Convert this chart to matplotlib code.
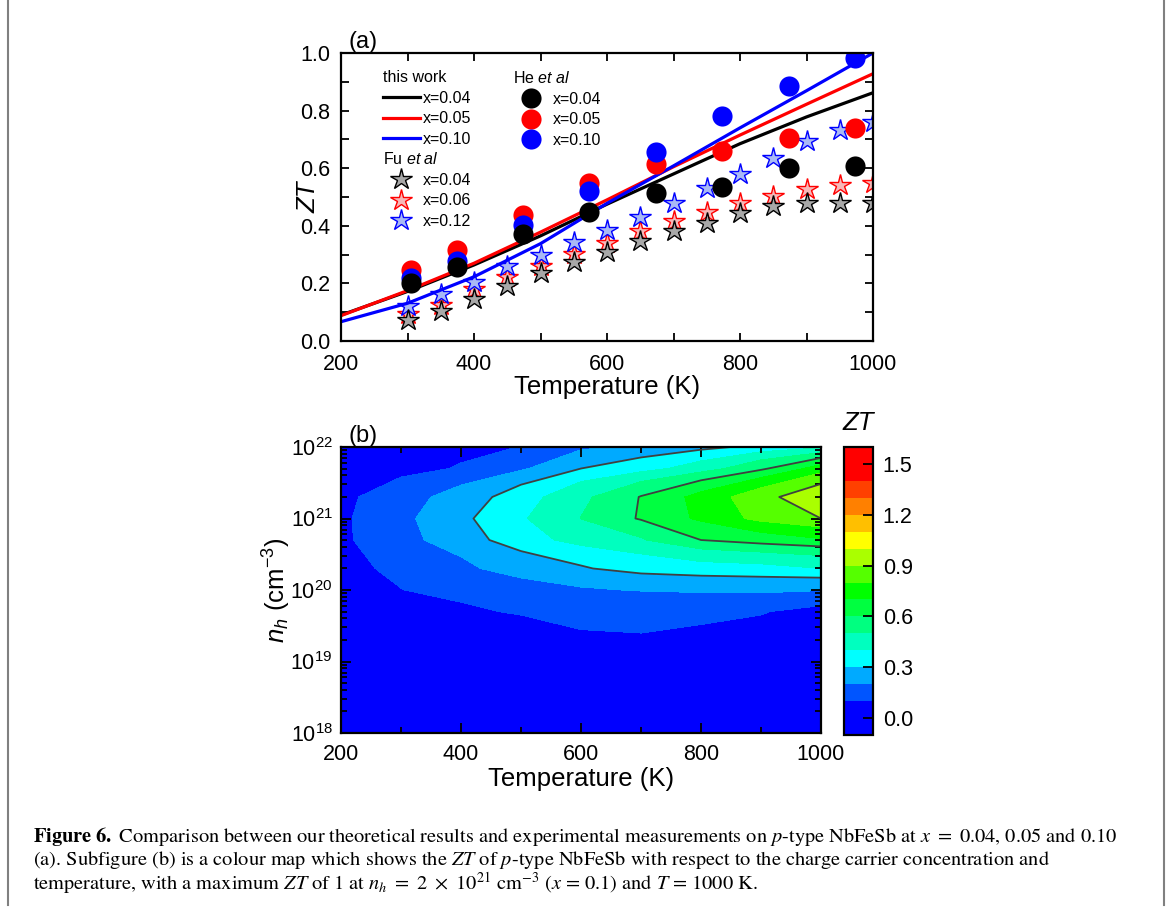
import numpy as np
import matplotlib
matplotlib.use('Agg')
import matplotlib.pyplot as plt
from matplotlib.lines import Line2D
from matplotlib.ticker import MultipleLocator, LogLocator, NullFormatter

plt.rcParams['font.family'] = ['Liberation Sans', 'DejaVu Sans']
plt.rcParams['mathtext.fontset'] = 'custom'
plt.rcParams['mathtext.rm'] = 'Liberation Sans'
plt.rcParams['mathtext.it'] = 'Liberation Sans:italic'
plt.rcParams['mathtext.bf'] = 'Liberation Sans:bold'

# --- (a) ZT vs T ---
# this work (model curves)
t_model = [200, 300, 400, 500, 600, 700, 800, 900, 1000]
zt_model_004 = [0.090, 0.172, 0.264, 0.365, 0.475, 0.580, 0.685, 0.778, 0.862]
zt_model_005 = [0.088, 0.175, 0.270, 0.378, 0.490, 0.605, 0.715, 0.822, 0.928]
zt_model_010 = [0.067, 0.131, 0.223, 0.338, 0.478, 0.608, 0.740, 0.869, 1.000]

# He et al
t_he = [305, 375, 473, 573, 673, 773, 873, 973]
zt_he_004 = [0.200, 0.258, 0.370, 0.449, 0.513, 0.536, 0.600, 0.608]
zt_he_005 = [0.247, 0.316, 0.437, 0.549, 0.613, 0.661, 0.705, 0.739]
zt_he_010 = [0.220, 0.278, 0.403, 0.522, 0.657, 0.781, 0.885, 0.984]

# Fu et al
t_fu = [300, 350, 400, 450, 500, 550, 600, 650, 700, 750, 800, 850, 900, 950, 1000]
zt_fu_004 = [0.072, 0.103, 0.147, 0.190, 0.236, 0.274, 0.310, 0.346, 0.381, 0.410, 0.443, 0.468, 0.478, 0.478, 0.478]
zt_fu_006 = [0.095, 0.126, 0.180, 0.221, 0.259, 0.302, 0.339, 0.383, 0.418, 0.447, 0.478, 0.505, 0.528, 0.543, 0.548]
zt_fu_012 = [0.123, 0.162, 0.206, 0.261, 0.298, 0.345, 0.386, 0.432, 0.480, 0.531, 0.580, 0.635, 0.693, 0.731, 0.760]

labels_model = ['x=0.04', 'x=0.05', 'x=0.10']
labels_fu = ['x=0.04', 'x=0.06', 'x=0.12']

# --- (b) ZT map: rows = carrier concentration, columns = temperature ---
t_grid = [200, 300, 400, 500, 600, 700, 800, 900, 1000]
nh_grid = [1e18, 2e18, 5e18, 1e19, 2e19, 5e19, 1e20, 2e20, 5e20, 1e21, 2e21, 5e21, 1e22]
zt_grid = [
    [0.000, 0.000, 0.000, 0.000, 0.000, 0.000, 0.000, 0.000, 0.000],
    [0.000, 0.001, 0.002, 0.004, 0.006, 0.008, 0.007, 0.006, 0.004],
    [0.000, 0.004, 0.008, 0.012, 0.020, 0.024, 0.022, 0.018, 0.010],
    [0.002, 0.012, 0.020, 0.030, 0.050, 0.055, 0.050, 0.042, 0.020],
    [0.003, 0.025, 0.040, 0.054, 0.091, 0.094, 0.085, 0.077, 0.040],
    [0.015, 0.060, 0.084, 0.110, 0.125, 0.130, 0.120, 0.105, 0.073],
    [0.035, 0.098, 0.130, 0.155, 0.190, 0.205, 0.215, 0.220, 0.205],
    [0.060, 0.130, 0.176, 0.250, 0.290, 0.340, 0.360, 0.370, 0.400],
    [0.083, 0.165, 0.255, 0.350, 0.440, 0.490, 0.600, 0.650, 0.690],
    [0.083, 0.175, 0.277, 0.388, 0.502, 0.610, 0.720, 0.830, 0.900],
    [0.075, 0.160, 0.240, 0.355, 0.475, 0.605, 0.735, 0.865, 0.980],
    [0.050, 0.060, 0.110, 0.185, 0.300, 0.360, 0.450, 0.580, 0.750],
    [0.020, 0.035, 0.060, 0.103, 0.180, 0.220, 0.270, 0.330, 0.380],
]
zt_levels = [-0.1, 0.1, 0.2, 0.3, 0.4, 0.5, 0.6, 0.7, 0.8, 0.9, 1.0, 1.1, 1.2, 1.3, 1.4, 1.5, 1.6]
band_colors = ['#0000FF', '#0055FF', '#00AAFF', '#00FFFF', '#00FFBF', '#00FF80', '#00FF40',
               '#00FF00', '#55FF00', '#AAFF00', '#FFFF00', '#FFBF00', '#FF8000', '#FF4000',
               '#FF0000', '#FF0000']
line_levels = [0.3, 0.6, 0.9]
cbar_ticks = [0.0, 0.3, 0.6, 0.9, 1.2, 1.5]

fig = plt.figure(figsize=(11.7, 9.15), dpi=100)
ax1 = fig.add_axes([341 / 1170, 1 - 341 / 915, 532 / 1170, 288 / 915])
ax2 = fig.add_axes([341 / 1170, 1 - 733 / 915, 480 / 1170, 286 / 915])
cax = fig.add_axes([844 / 1170, 1 - 735 / 915, 29 / 1170, 288 / 915])

# panel (a)
star_kw = dict(ls='none', marker='*', ms=16, mew=1.0)
ax1.plot(t_fu, zt_fu_006, mfc='#F7B8B8', mec='#FF0000', **star_kw)
ax1.plot(t_fu, zt_fu_012, mfc='#A9B9F5', mec='#0000FF', **star_kw)
ax1.plot(t_fu, zt_fu_004, mfc='#A8A8A8', mec='#000000', **star_kw)

line_colors = ['#000000', '#FF0000', '#0000FF']
for zt, c in zip([zt_model_004, zt_model_005, zt_model_010], line_colors):
    ax1.plot(t_model, zt, color=c, lw=2.3)

ax1.plot(t_he, zt_he_005, ls='none', marker='o', ms=14.5, color='#FF0000', mew=0)
ax1.plot(t_he, zt_he_010, ls='none', marker='o', ms=14.5, color='#0000FF', mew=0)
ax1.plot(t_he, zt_he_004, ls='none', marker='o', ms=14.5, color='#000000', mew=0)

ax1.set_xlim(200, 1000)
ax1.set_ylim(0, 1.0)
ax1.xaxis.set_major_locator(MultipleLocator(200))
ax1.xaxis.set_minor_locator(MultipleLocator(100))
ax1.yaxis.set_major_locator(MultipleLocator(0.2))
ax1.yaxis.set_minor_locator(MultipleLocator(0.1))
ax1.yaxis.set_major_formatter('{x:.1f}')
ax1.tick_params(which='both', direction='in', top=True, right=True, length=6, width=1.3,
                labelsize=15.5)
ax1.tick_params(axis='x', pad=9)
ax1.tick_params(axis='y', pad=8)
for s in ax1.spines.values():
    s.set_linewidth(1.6)
ax1.set_xlabel('Temperature (K)', fontsize=18.5)
ax1.set_ylabel('ZT', fontsize=18.5, fontstyle='italic')
ax1.xaxis.set_label_coords(0.5, -0.118)
ax1.yaxis.set_label_coords(-0.038, 0.5)
ax1.text(0.014, 1.0, '(a)', transform=ax1.transAxes, fontsize=17, va='bottom')

leg_kw = dict(loc='upper left', frameon=False, fontsize=11.5, title_fontsize=11.5,
              alignment='left', handlelength=2.3, handletextpad=0.2, labelspacing=0.34,
              borderpad=0, borderaxespad=0)
h_model = [Line2D([], [], color=c, lw=2.3) for c in line_colors]
leg1 = ax1.legend(h_model, labels_model, title='this work', bbox_to_anchor=(0.079, 0.94), **leg_kw)
ax1.add_artist(leg1)
h_fu = [Line2D([], [], mfc='#A8A8A8', mec='#000000', **star_kw),
        Line2D([], [], mfc='#F7B8B8', mec='#FF0000', **star_kw),
        Line2D([], [], mfc='#A9B9F5', mec='#0000FF', **star_kw)]
leg2 = ax1.legend(h_fu, labels_fu, title=r'Fu $\mathit{et\ al}$', bbox_to_anchor=(0.079, 0.658), **leg_kw)
ax1.add_artist(leg2)
h_he = [Line2D([], [], ls='none', marker='o', ms=14.5, color=c, mew=0) for c in line_colors]
ax1.legend(h_he, labels_model, title=r'He $\mathit{et\ al}$', bbox_to_anchor=(0.323, 0.94), **leg_kw)

# panel (b)
zt_arr = np.array(zt_grid)
cf = ax2.contourf(t_grid, nh_grid, zt_arr, levels=zt_levels, colors=band_colors)
ax2.contour(t_grid, nh_grid, zt_arr, levels=line_levels, colors='#404040', linewidths=1.3)
ax2.set_yscale('log')
ax2.set_xlim(200, 1000)
ax2.set_ylim(1e18, 1e22)
ax2.xaxis.set_major_locator(MultipleLocator(200))
ax2.xaxis.set_minor_locator(MultipleLocator(100))
ax2.yaxis.set_major_locator(LogLocator(base=10, numticks=10))
ax2.yaxis.set_minor_locator(LogLocator(base=10, subs=np.arange(2, 10), numticks=10))
ax2.yaxis.set_minor_formatter(NullFormatter())
ax2.tick_params(which='both', direction='in', top=True, right=True, width=1.3, labelsize=15.5)
ax2.tick_params(which='major', length=7)
ax2.tick_params(which='minor', length=4)
ax2.tick_params(axis='x', pad=8)
ax2.tick_params(axis='y', pad=6)
for s in ax2.spines.values():
    s.set_linewidth(1.6)
ax2.set_xlabel('Temperature (K)', fontsize=18.5)
ax2.set_ylabel(r'$n_h$ (cm$^{-3}$)', fontsize=18.5)
ax2.xaxis.set_label_coords(0.5, -0.12)
ax2.yaxis.set_label_coords(-0.1, 0.5)
ax2.text(0.016, 1.0, '(b)', transform=ax2.transAxes, fontsize=17, va='bottom')

cbar = fig.colorbar(cf, cax=cax, ticks=cbar_ticks, spacing='proportional')
cbar.ax.yaxis.set_major_formatter('{x:.1f}')
cbar.ax.tick_params(direction='in', length=7, width=1.3, labelsize=15.5, pad=7)
cbar.outline.set_linewidth(1.6)
cbar.ax.set_title('ZT', fontsize=18.5, fontstyle='italic', pad=12)

# caption
cap_kw = dict(fontsize=14.7, family='STIXGeneral', math_fontfamily='stix', ha='left', va='center')
fig.text(33 / 1170, 1 - 837 / 915,
         r'$\mathbf{Figure\ 6.}$ Comparison between our theoretical results and experimental '
         r'measurements on $p$-type NbFeSb at $x\ =\ 0.04$, 0.05 and 0.10', **cap_kw)
fig.text(33 / 1170, 1 - 860 / 915,
         r'(a). Subfigure (b) is a colour map which shows the $ZT$ of $p$-type NbFeSb with respect '
         r'to the charge carrier concentration and', **cap_kw)
fig.text(33 / 1170, 1 - 883 / 915,
         r'temperature, with a maximum $ZT$ of 1 at $n_h\ =\ 2\ \times\ 10^{21}\ \mathrm{cm}^{-3}$ '
         r'($x$ = 0.1) and $T$ = 1000 K.', **cap_kw)

# page frame lines
for xf in (8 / 1170, 1164 / 1170):
    fig.add_artist(Line2D([xf, xf], [10 / 915, 1.0], color='#808080', lw=1.5))

fig.savefig('out.png', dpi=100)
